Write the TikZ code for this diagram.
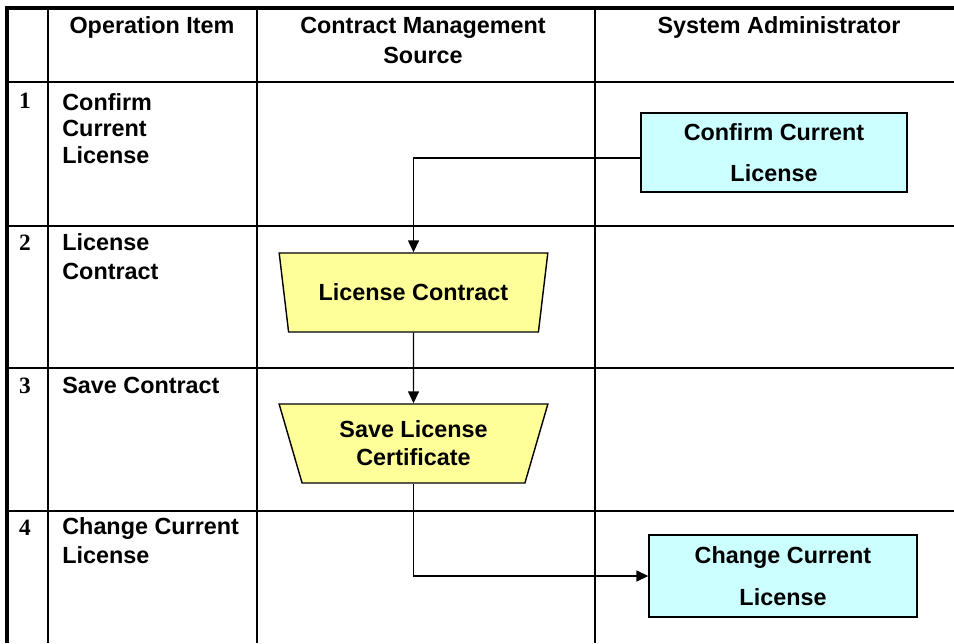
\documentclass[tikz,border=0pt]{standalone}
\usepackage{fontspec}
\setmainfont{Liberation Sans}
\newfontfamily\chiffres{Liberation Serif}
\usepackage{tikz}
\usetikzlibrary{arrows.meta,shapes.geometric}
\definecolor{cyanpale}{HTML}{CCFFFF}
\definecolor{jaunepale}{HTML}{FFFF99}
\tikzset{
  boite/.style={draw=black,line width=0.8pt,align=center,inner sep=2pt},
  fleche/.style={-{Triangle[length=2.4mm,width=2.2mm]},line width=0.8pt,color=black},
  grille/.style={line width=1.1pt,color=black},
}

\begin{document}
\begin{tikzpicture}[x=0.02cm,y=-0.02cm,
  font=\fontsize{13.3}{16}\selectfont\bfseries,
  t/.style={inner sep=0pt,align=left,anchor=base west},
  h/.style={inner sep=0pt,align=center,anchor=base},
  n/.style={inner sep=0pt,anchor=base,font=\chiffres\fontsize{13.3}{16}\selectfont\bfseries},
  a/.style={boite,fill=cyanpale,minimum width=5.32cm,minimum height=1.58cm},
  c/.style={boite,fill=jaunepale,trapezium,shape border rotate=180,
            trapezium left angle=73,trapezium right angle=73,trapezium stretches=true,
            minimum width=5.38cm,minimum height=1.58cm}]
  \useasboundingbox (0,0) rectangle (954,643);
  \foreach \x in {48,257,595} \draw[grille] (\x,8) -- (\x,643);
  \foreach \y in {82,226,368,511} \draw[grille] (7,\y) -- (954,\y);
  \draw[grille,line width=1.8pt] (7,643) -- (7,8) -- (954,8);
  \node[h] (h1) at (152,33) {Operation Item};
  \node[h] (h2) at (423,63) {Contract Management\\[1pt]Source};
  \node[h] (h3) at (779,33) {System Administrator};
  \foreach \i/\y in {1/108,2/250,3/393,4/535} \node[n] (n\i) at (25,\y) {\i};
  \node[t] (l1) at (62,163) {Confirm\\[-1pt]Current\\[-1pt]License};
  \node[t] (l2) at (62,279) {License\\Contract};
  \node[t] (l3) at (62,393) {Save Contract};
  \node[t] (l4) at (62,563) {Change Current\\License};
  \node[a] (a1) at (774,152.5) {Confirm Current\\[7pt]License};
  \node[c] (c1) at (413.5,292.5) {License Contract};
  \node[c] (c2) at (413.5,443.5) {Save License\\Certificate};
  \node[a,minimum width=5.36cm,minimum height=1.64cm] (a2) at (783,576) {Change Current\\[8pt]License};
  \draw[fleche] ([yshift=-1.1mm]a1.west) -| (c1.north);
  \draw[fleche] (c1.south) -- (c2.north);
  \draw[fleche] (c2.south) |- (a2.west);
\end{tikzpicture}
\end{document}
